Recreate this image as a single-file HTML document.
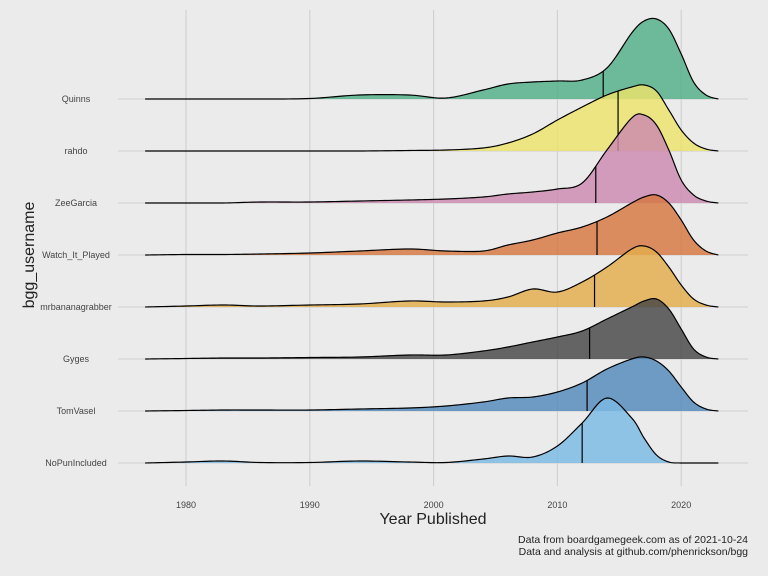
<!DOCTYPE html>
<html><head><meta charset="utf-8"><style>
html,body{margin:0;padding:0;background:#ebebeb;}
svg{display:block;font-family:"Liberation Sans",sans-serif;}
</style></head><body>
<svg id="chart" width="768" height="576" viewBox="0 0 768 576">
<rect width="768" height="576" fill="#ebebeb"/>
<g id="grid"></g><g id="ridges"></g><g id="labels"></g>
<text x="433" y="524" text-anchor="middle" font-size="16" fill="#222">Year Published</text>
<text transform="translate(34,255) rotate(-90)" text-anchor="middle" font-size="16" fill="#222">bgg_username</text>
<text x="748" y="543" text-anchor="end" font-size="10.5" fill="#222">Data from boardgamegeek.com as of 2021-10-24</text>
<text x="748" y="555" text-anchor="end" font-size="10.5" fill="#222">Data and analysis at github.com/phenrickson/bgg</text>
</svg>
<script>
const users = ["Quinns","rahdo","ZeeGarcia","Watch_It_Played","mrbananagrabber","Gyges","TomVasel","NoPunIncluded"];
const colors = ["#4fae88","#ebe36a","#cc88b0","#d6763f","#e3ac4a","#454545","#5089bb","#7ab9e4"];
const years = [1976.7,1980,1983,1986,1990,1994,1998,2001,2004,2006,2008,2010,2012,2014,2016,2017,2018,2019,2020,2021,2022,2023];
const dQuinns = [0,0,0,0,0.5,4,4,1,9,15,17,18,19,31,66,78,80,70,45,17,4,0];
const dRahdo = [0,0,0,0,0,0,0.5,1,3,8,17,31,44,56,64,66,60,41,21,8,2,0];
const dZee = [0,0,0,1,1,2,3,4,6,9,11,14,20,53,85,88,78,53,23,8,2,0];
const dWatch = [0,0.5,0.5,1,2,4,6,4,4,10,15,22,28,38,52,58,60,52,35,15,4,0];
const dBanana = [0,1,2,1,2,3,6,5,6,10,18,15,25,40,58,61,55,40,22,8,2,0];
const dGyges = [0,0.5,1,1,1.5,2,4,4,8,12,17,22,28,40,52,58,60,50,30,10,2,0];
const dTom = [0,0.5,1,1,1,2,3,5,9,13,14,19,28,42,52,54,50,40,24,9,2,0];
const dNoPun = [0,1,2,0.5,0.5,2,1,0.5,4,7,6,17,40,65,45,25,8,1,0,0,0,0];
const medians = [2013.7,2014.9,2013.1,2013.2,2013.0,2012.6,2012.4,2012.0];
const xTicks = [1980,1990,2000,2010,2020];
const series = [dQuinns,dRahdo,dZee,dWatch,dBanana,dGyges,dTom,dNoPun];

const NS="http://www.w3.org/2000/svg";
const xScale = y => 186 + (y-1980)*12.38;
const baseY = i => 99 + i*52.0;
const hScale = v => v;
function mk(tag,attrs,parent){const e=document.createElementNS(NS,tag);for(const k in attrs)e.setAttribute(k,attrs[k]);parent.appendChild(e);return e;}
const grid=document.getElementById('grid'), ridges=document.getElementById('ridges'), labels=document.getElementById('labels');
xTicks.forEach(t=>{
  const l=mk('line',{x1:xScale(t),x2:xScale(t),y1:10,y2:486,stroke:'#cfcfcf','stroke-width':1.1},grid);
  
  
  const tx=mk('text',{x:xScale(t),y:508,'text-anchor':'middle','font-size':9,fill:'#444'},labels);
  tx.textContent=t;
  
  
});
users.forEach((u,i)=>{
  const l=mk('line',{x1:118,x2:748,y1:baseY(i),y2:baseY(i),stroke:'#cfcfcf','stroke-width':1.1},grid);
  
  
  const tx=mk('text',{x:76,y:baseY(i)+3,'text-anchor':'middle','font-size':9,fill:'#444'},labels);
  tx.textContent=u;
  
  
});
function dense(vals){
  const pts=[];const n=years.length;
  const P=k=>[years[Math.max(0,Math.min(n-1,k))],vals[Math.max(0,Math.min(n-1,k))]];
  for(let k=0;k<n-1;k++){
    const p0=P(k-1),p1=P(k),p2=P(k+1),p3=P(k+2);
    for(let s=0;s<12;s++){const t=s/12,t2=t*t,t3=t2*t;
      const f=(a,b,c,d)=>0.5*((2*b)+(-a+c)*t+(2*a-5*b+4*c-d)*t2+(-a+3*b-3*c+d)*t3);
      pts.push([f(p0[0],p1[0],p2[0],p3[0]),Math.max(0,f(p0[1],p1[1],p2[1],p3[1]))]);}
  }
  pts.push([years[n-1],vals[n-1]]);return pts;
}
series.forEach((vals,i)=>{
  const b=baseY(i);const pts=dense(vals);
  const line=pts.map((p,j)=>(j?'L':'M')+xScale(p[0]).toFixed(2)+','+(b-hScale(p[1])).toFixed(2)).join('');
  const g=mk('g',{},ridges);
  
  
  const area=mk('path',{d:line+'L'+xScale(years[years.length-1])+','+b+'L'+xScale(years[0])+','+b+'Z',fill:colors[i],'fill-opacity':0.82},g);
  
  
  const ln=mk('path',{d:line,fill:'none',stroke:'#000','stroke-width':1.2},g);
  
  
  const m=medians[i];let h=0;
  for(let j=0;j<pts.length-1;j++){if(pts[j][0]<=m&&pts[j+1][0]>=m){const r=(m-pts[j][0])/(pts[j+1][0]-pts[j][0]);h=pts[j][1]+r*(pts[j+1][1]-pts[j][1]);break;}}
  const ml=mk('line',{x1:xScale(m),x2:xScale(m),y1:b,y2:b-hScale(h),stroke:'#000','stroke-width':1.2},g);
  
  
});
</script>
</body></html>
